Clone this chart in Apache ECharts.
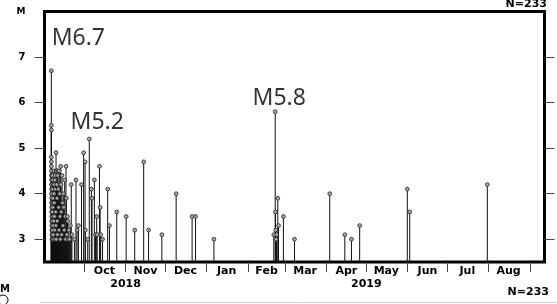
<!DOCTYPE html>
<html>
<head>
<meta charset="utf-8">
<script src="https://cdn.jsdelivr.net/npm/echarts@6/dist/echarts.min.js"></script>
<style>
html, body { margin: 0; padding: 0; background: #fff; }
#chart { width: 557px; height: 304px; }
</style>
</head>
<body>
<div id="chart"></div>
<script>
// event times (local) and magnitudes
const eventDates = [
  '2018-09-06 03:08', '2018-09-06 03:20', '2018-09-06 03:40', '2018-09-06 04:00', '2018-09-06 04:30',
  '2018-09-06 05:00', '2018-09-06 05:30', '2018-09-06 06:00', '2018-09-06 06:30', '2018-09-06 07:00',
  '2018-09-06 07:30', '2018-09-06 08:00', '2018-09-06 08:30', '2018-09-06 09:00', '2018-09-06 09:30',
  '2018-09-06 10:00', '2018-09-06 10:30', '2018-09-06 11:00', '2018-09-06 11:30', '2018-09-06 12:00',
  '2018-09-06 12:30', '2018-09-06 13:00', '2018-09-06 14:00', '2018-09-06 15:00', '2018-09-06 16:00',
  '2018-09-06 17:00', '2018-09-06 18:00', '2018-09-06 19:00', '2018-09-06 21:00', '2018-09-06 23:00',
  '2018-09-07 00:30', '2018-09-07 02:00', '2018-09-07 04:00', '2018-09-07 06:00', '2018-09-07 08:00',
  '2018-09-07 10:00', '2018-09-07 12:00', '2018-09-07 14:00', '2018-09-07 16:00', '2018-09-07 18:00',
  '2018-09-07 20:00', '2018-09-07 22:00',
  '2018-09-08 01:00', '2018-09-08 04:00', '2018-09-08 07:00', '2018-09-08 10:00', '2018-09-08 13:00',
  '2018-09-08 16:00', '2018-09-08 19:00', '2018-09-08 22:00',
  '2018-09-09 02:00', '2018-09-09 06:00', '2018-09-09 10:00', '2018-09-09 14:00', '2018-09-09 16:00',
  '2018-09-09 20:00', '2018-09-09 22:00',
  '2018-09-10 02:00', '2018-09-10 06:00', '2018-09-10 10:00', '2018-09-10 14:00', '2018-09-10 18:00',
  '2018-09-10 22:00',
  '2018-09-11 03:00', '2018-09-11 09:00', '2018-09-11 15:00', '2018-09-11 21:00',
  '2018-09-12 03:00', '2018-09-12 09:00', '2018-09-12 15:00', '2018-09-12 21:00',
  '2018-09-13 03:00', '2018-09-13 09:00', '2018-09-13 15:00', '2018-09-13 21:00',
  '2018-09-14 04:00', '2018-09-14 12:00', '2018-09-14 20:00',
  '2018-09-15 04:00', '2018-09-15 12:00', '2018-09-15 20:00',
  '2018-09-16 04:00', '2018-09-16 12:00', '2018-09-16 20:00',
  '2018-09-17 04:00', '2018-09-17 12:00', '2018-09-17 20:00',
  '2018-09-18 06:00', '2018-09-18 14:00', '2018-09-18 22:00',
  '2018-09-19 08:00', '2018-09-19 18:00', '2018-09-20 12:00',
  '2018-09-21 03:00', '2018-09-21 15:00', '2018-09-23 12:00', '2018-09-24 16:00', '2018-09-25 12:00',
  '2018-09-26 12:00', '2018-09-28 20:00', '2018-09-30 10:00', '2018-10-01 12:00', '2018-10-01 18:00',
  '2018-10-03 12:00', '2018-10-04 16:00', '2018-10-06 06:00', '2018-10-06 18:00', '2018-10-08 12:00',
  '2018-10-09 08:00', '2018-10-10 06:00', '2018-10-10 14:00', '2018-10-12 08:00', '2018-10-12 20:00',
  '2018-10-13 06:00', '2018-10-14 16:00', '2018-10-18 12:00', '2018-10-19 20:00', '2018-10-25 08:00',
  '2018-11-01 10:00', '2018-11-07 20:00', '2018-11-14 14:00', '2018-11-18 06:00', '2018-11-28 06:00',
  '2018-12-09 00:00', '2018-12-21 00:00', '2018-12-23 14:00', '2019-01-06 10:00',
  '2019-02-20 10:00', '2019-02-21 12:00', '2019-02-21 16:00', '2019-02-21 20:00', '2019-02-22 06:00',
  '2019-02-22 14:00', '2019-02-23 10:00', '2019-02-24 00:00', '2019-02-27 16:00', '2019-03-08 00:00',
  '2019-04-03 12:00', '2019-04-14 20:00', '2019-04-19 20:00', '2019-04-26 00:00',
  '2019-05-31 20:00', '2019-06-02 16:00', '2019-07-31 00:00'
];
const eventMags = [
  6.7, 5.5, 5.4, 4.8, 4.7, 4.6, 4.5, 4.4, 4.3, 4.2,
  4.1, 4.0, 3.9, 3.8, 3.7, 3.6, 3.5, 3.4, 3.3, 3.2,
  3.1, 3.0, 4.4, 4.2, 4.0, 3.8, 3.6, 3.4, 3.2, 3.0,
  4.4, 4.3, 4.1, 3.9, 3.7, 3.5, 3.3, 3.1, 3.0, 4.2, 3.8, 3.4,
  4.5, 4.2, 4.0, 3.8, 3.5, 3.2, 3.0, 4.3,
  4.4, 4.1, 3.6, 3.3, 4.9, 3.0, 4.5,
  4.5, 4.2, 3.9, 3.4, 3.1, 4.4,
  4.5, 4.1, 3.7, 3.2,
  4.5, 4.0, 3.5, 3.0,
  4.6, 4.2, 3.6, 3.1,
  4.4, 3.8, 3.3,
  4.0, 3.7, 3.2,
  4.3, 3.5, 3.0,
  4.6, 3.9, 3.1,
  3.5, 3.4, 3.0,
  3.2, 3.0, 3.3,
  4.2, 3.1, 3.0, 4.3, 3.2,
  3.3, 4.2, 4.9, 4.7, 3.2,
  3.0, 5.2, 4.1, 3.9, 4.3,
  3.1, 3.5, 3.1, 4.6, 3.7,
  3.1, 3.0, 4.1, 3.3, 3.6,
  3.5, 3.2, 4.7, 3.2, 3.1,
  4.0, 3.5, 3.5, 3.0,
  3.1, 5.8, 3.6, 3.2, 3.0,
  3.1, 3.9, 3.3, 3.5, 3.0,
  4.0, 3.1, 3.0, 3.3,
  4.1, 3.6, 4.2
];
const labelEvents = ['2018-09-06 03:08', '2018-10-04 16:00', '2019-02-21 12:00'];
const labelMags = [6.7, 5.2, 5.8];
const labelTexts = ['M6.7', 'M5.2', 'M5.8'];
const monthTicks = ['2018-10-01', '2018-11-01', '2018-12-01', '2019-01-01', '2019-02-01', '2019-03-01',
  '2019-04-01', '2019-05-01', '2019-06-01', '2019-07-01', '2019-08-01', '2019-09-01'];
const monthLabelDates = ['2018-10-16', '2018-11-16', '2018-12-16', '2019-01-16', '2019-02-15', '2019-03-16',
  '2019-04-16', '2019-05-16', '2019-06-16', '2019-07-16', '2019-08-16'];
const monthNames = ['Jan', 'Feb', 'Mar', 'Apr', 'May', 'Jun', 'Jul', 'Aug', 'Sep', 'Oct', 'Nov', 'Dec'];
const yearLabelDates = ['2018-11-01', '2019-05-01'];
const magTicks = [3, 4, 5, 6, 7];
const eventCount = 'N=233';

const xMin = '2018-09-01';
const xMax = '2019-09-12';
const yMin = 2.5, yMax = 8;

function ts(s) {
  const iso = s.length === 10 ? s + 'T00:00' : s.replace(' ', 'T');
  return +new Date(iso);
}

const events = eventDates.map((d, i) => [ts(d), eventMags[i]]);
const labelOffsets = [[27, -32], [8, -17], [4, -13]];
const labels = labelEvents.map((d, i) => ({
  value: [ts(d), labelMags[i]],
  label: { formatter: labelTexts[i], offset: labelOffsets[i] }
}));

const tickFont = { fontFamily: 'DejaVu Sans', fontWeight: 'bold', fontSize: 11, color: '#000' };

var chart = echarts.init(document.getElementById('chart'), null, { renderer: 'canvas' });
var option = {
  animation: false,
  grid: { left: 44.5, right: 12.5, top: 11.5, bottom: 42, show: true, borderColor: '#000', borderWidth: 3 },
  xAxis: [
    {
      type: 'value', min: ts(xMin), max: ts(xMax),
      axisLine: { show: false }, splitLine: { show: false },
      axisTick: { show: true, length: 10, customValues: monthTicks.map(ts), lineStyle: { color: '#444', width: 1 } },
      axisLabel: Object.assign({
        margin: 4, customValues: monthLabelDates.map(ts),
        formatter: v => monthNames[new Date(v).getMonth()]
      }, tickFont)
    },
    {
      type: 'value', min: ts(xMin), max: ts(xMax), position: 'bottom',
      axisLine: { show: false }, axisTick: { show: false }, splitLine: { show: false },
      axisLabel: Object.assign({
        margin: 17, customValues: yearLabelDates.map(ts),
        formatter: v => String(new Date(v).getFullYear())
      }, tickFont)
    }
  ],
  yAxis: [
    {
      type: 'value', min: yMin, max: yMax, position: 'left',
      name: 'M', nameLocation: 'end', nameGap: 0,
      nameTextStyle: { fontFamily: 'DejaVu Sans', fontWeight: 'bold', fontSize: 9, color: '#000',
        align: 'right', verticalAlign: 'middle', padding: [0, 19, 0, 0] },
      axisLine: { show: false }, splitLine: { show: false },
      axisTick: { show: true, length: 10, customValues: magTicks, lineStyle: { color: '#444', width: 1 } },
      axisLabel: Object.assign({ margin: 19, customValues: magTicks }, tickFont, { fontSize: 10 })
    },
    {
      type: 'value', min: yMin, max: yMax, position: 'right',
      axisLine: { show: false }, splitLine: { show: false }, axisLabel: { show: false },
      axisTick: { show: true, length: 10, customValues: magTicks, lineStyle: { color: '#444', width: 1 } }
    }
  ],
  series: [
    {
      type: 'custom', clip: true, data: events,
      renderItem: function (params, api) {
        const top = api.coord([api.value(0), api.value(1)]);
        const base = api.coord([api.value(0), yMin]);
        return { type: 'line', shape: { x1: top[0], y1: base[1], x2: top[0], y2: top[1] },
          style: { stroke: '#111', lineWidth: 1 } };
      }
    },
    {
      type: 'custom', clip: true, data: events,
      renderItem: function (params, api) {
        const top = api.coord([api.value(0), api.value(1)]);
        return { type: 'circle', shape: { cx: top[0], cy: top[1], r: 1.9 },
          style: { fill: '#a8a8a8', stroke: '#222', lineWidth: 0.8 } };
      }
    },
    {
      type: 'scatter', data: labels, symbolSize: 1, itemStyle: { color: 'transparent' }, silent: true,
      label: { show: true, position: 'inside', align: 'center', verticalAlign: 'middle',
        fontFamily: 'Noto Sans', fontSize: 23, color: '#000' }
    }
  ],
  graphic: [
    { type: 'text', right: 10, top: -1, style: { text: eventCount, font: 'bold 11px "DejaVu Sans"', fill: '#000' } },
    { type: 'text', right: 8, top: 287, style: { text: eventCount, font: 'bold 11px "DejaVu Sans"', fill: '#000' } },
    { type: 'text', left: 0, top: 284, style: { text: 'M', font: 'bold 10px "DejaVu Sans"', fill: '#000' } },
    { type: 'circle', shape: { cx: 3, cy: 300, r: 5 }, style: { fill: 'none', stroke: '#000', lineWidth: 1 } },
    { type: 'line', shape: { x1: 40, y1: 302.5, x2: 557, y2: 302.5 }, style: { stroke: '#d0d0d0', lineWidth: 1 } }
  ]
};
chart.setOption(option);
</script>
</body>
</html>
